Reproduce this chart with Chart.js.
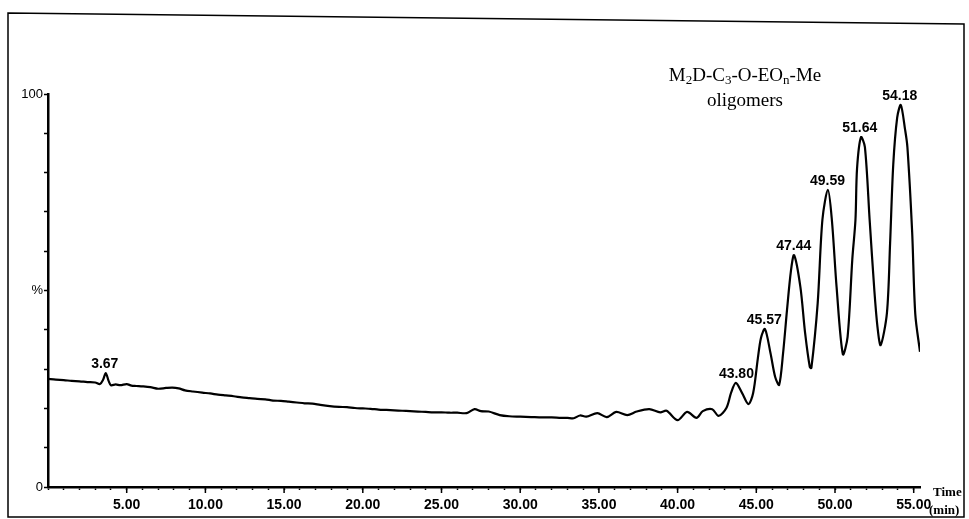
<!DOCTYPE html>
<html>
<head>
<meta charset="utf-8">
<script src="https://cdn.jsdelivr.net/npm/chart.js@4.4.1/dist/chart.umd.min.js"></script>
<style>
  body { margin: 0; background: #fff; }
  canvas { display: block; }
</style>
</head>
<body>
<canvas id="tic" width="969" height="519"></canvas>
<script>
// retention time (min) and relative intensity (%)
const times = [0.0, 0.5, 1.0, 1.5, 2.0, 2.5, 3.0, 3.3, 3.5, 3.67, 3.85, 4.0, 4.3, 4.6, 5.0, 5.3, 5.6, 6.0, 6.5, 7.0,
  7.5, 7.9, 8.3, 8.7, 9.2, 9.8, 10.3, 10.8, 11.3, 11.8, 12.3, 12.8, 13.3, 13.8, 14.3, 14.8, 15.3, 15.8, 16.3, 16.8,
  17.3, 17.9, 18.5, 19.0, 19.5, 20.0, 20.5, 21.0, 21.5, 22.0, 22.5, 23.0, 23.5, 24.0, 24.5, 25.0, 25.5, 26.0, 26.6, 27.1,
  27.5, 28.0, 28.7, 29.3, 30.0, 30.7, 31.4, 32.0, 32.6, 33.0, 33.4, 33.8, 34.2, 34.9, 35.5, 36.1, 36.8, 37.4, 38.2, 38.9,
  39.3, 40.0, 40.6, 41.2, 41.6, 42.2, 42.6, 43.1, 43.4, 43.7, 44.1, 44.5, 44.8, 45.1, 45.3, 45.55, 45.9, 46.2, 46.45, 46.7,
  46.95, 47.2, 47.4, 47.8, 48.1, 48.4, 48.5, 48.9, 49.2, 49.55, 49.8, 50.1, 50.5, 50.8, 51.1, 51.3, 51.4, 51.65, 51.9, 52.2,
  52.5, 52.7, 52.9, 53.3, 53.5, 53.7, 53.95, 54.18, 54.45, 54.6, 54.9, 55.1, 55.4];
const intensity = [27.5, 27.3, 27.2, 27.0, 26.9, 26.7, 26.6, 26.2, 27.3, 29.0, 27.0, 25.9, 26.1, 25.9, 26.2, 25.8, 25.7, 25.6, 25.4, 25.0,
  25.2, 25.3, 25.1, 24.6, 24.3, 24.0, 23.8, 23.5, 23.3, 23.1, 22.8, 22.6, 22.4, 22.3, 22.0, 21.9, 21.7, 21.5, 21.3, 21.2,
  20.9, 20.6, 20.4, 20.3, 20.1, 20.0, 19.9, 19.7, 19.6, 19.5, 19.4, 19.3, 19.2, 19.1, 19.0, 19.0, 18.9, 18.9, 18.8, 19.8,
  19.3, 19.2, 18.3, 18.0, 17.9, 17.8, 17.7, 17.7, 17.6, 17.6, 17.5, 18.2, 17.9, 18.8, 17.8, 19.1, 18.3, 19.2, 19.8, 19.0,
  19.4, 17.0, 19.1, 17.6, 19.3, 19.8, 18.1, 20.1, 24.0, 26.5, 23.9, 21.1, 23.9, 32.8, 38.0, 40.2, 34.1, 28.0, 26.0, 34.0,
  45.0, 55.0, 59.0, 50.9, 39.2, 30.5, 30.3, 46.8, 68.0, 75.6, 68.0, 50.9, 33.8, 38.2, 58.0, 68.0, 81.0, 89.0, 86.5, 68.0,
  50.0, 40.7, 36.1, 44.3, 62.0, 82.0, 94.0, 97.2, 91.0, 86.5, 65.0, 44.0, 34.4];

// labelled peaks
const peakTimes = [3.67, 43.80, 45.57, 47.44, 49.59, 51.64, 54.18];
const peakHeights = [29.0, 26.5, 40.2, 59.0, 75.6, 89.0, 97.2];

// y axis only carries three labels
const yLabels = { 0: '0', 50: '%', 100: '100' };

const points = times.map((t, i) => ({ x: t, y: intensity[i] }));

const framePlugin = {
  id: 'frame',
  afterDraw(chart) {
    const ctx = chart.ctx;
    const xs = chart.scales.x;
    const ys = chart.scales.y;
    ctx.save();

    // scanned page border
    ctx.strokeStyle = '#000';
    ctx.lineWidth = 1.5;
    ctx.beginPath();
    ctx.moveTo(8, 13);
    ctx.lineTo(964, 24);
    ctx.lineTo(964, 517);
    ctx.lineTo(8, 517);
    ctx.closePath();
    ctx.stroke();

    // longer ticks every 5 min
    ctx.lineWidth = 1.5;
    ctx.beginPath();
    for (let t = 5; t <= 55; t += 5) {
      const px = xs.getPixelForValue(t);
      ctx.moveTo(px, ys.bottom);
      ctx.lineTo(px, ys.bottom + 6);
    }
    ctx.stroke();

    // peak retention times
    ctx.fillStyle = '#000';
    ctx.font = 'bold 14px "Liberation Sans", Arial, sans-serif';
    ctx.textAlign = 'center';
    ctx.textBaseline = 'bottom';
    peakTimes.forEach((t, i) => {
      const px = xs.getPixelForValue(t);
      const py = ys.getPixelForValue(peakHeights[i]);
      ctx.fillText(t.toFixed(2), px - 1, py - 2);
    });

    // axis name
    ctx.font = 'bold 13px "Liberation Serif", "Times New Roman", serif';
    ctx.textAlign = 'left';
    ctx.textBaseline = 'middle';
    ctx.fillText('Time', 933, 493);
    ctx.fillText('(min)', 929, 511);

    // compound annotation with subscripts
    const parts = [['M', 0], ['2', 1], ['D-C', 0], ['3', 1], ['-O-EO', 0], ['n', 1], ['-Me', 0]];
    const big = '19px "Liberation Serif", "Times New Roman", serif';
    const small = '13px "Liberation Serif", "Times New Roman", serif';
    let w = 0;
    parts.forEach(p => { ctx.font = p[1] ? small : big; w += ctx.measureText(p[0]).width; });
    let x = 745 - w / 2;
    ctx.textAlign = 'left';
    ctx.textBaseline = 'alphabetic';
    parts.forEach(p => {
      ctx.font = p[1] ? small : big;
      ctx.fillText(p[0], x, p[1] ? 84 : 81);
      x += ctx.measureText(p[0]).width;
    });
    ctx.font = big;
    ctx.textAlign = 'center';
    ctx.fillText('oligomers', 745, 106);

    ctx.restore();
  }
};

new Chart(document.getElementById('tic'), {
  type: 'line',
  data: {
    datasets: [{
      data: points,
      borderColor: '#000',
      borderWidth: 2.2,
      pointRadius: 0,
      tension: 0.3,
      fill: false
    }]
  },
  options: {
    responsive: false,
    animation: false,
    parsing: false,
    layout: { padding: { left: 0, top: 94, right: 49, bottom: 0 } },
    plugins: {
      legend: { display: false },
      tooltip: { enabled: false }
    },
    scales: {
      x: {
        type: 'linear',
        min: 0,
        max: 55.4,
        afterFit(scale) { scale.height = 32; },
        border: { display: true, color: '#000', width: 2.5 },
        grid: { drawOnChartArea: false, drawTicks: true, tickLength: 3, tickColor: '#000', tickWidth: 1.5 },
        ticks: {
          stepSize: 1,
          includeBounds: false,
          autoSkip: false,
          maxRotation: 0,
          padding: 7,
          color: '#000',
          font: { family: '"Liberation Sans", Arial, sans-serif', size: 14, weight: 'bold' },
          callback: v => (v > 0 && v % 5 === 0) ? v.toFixed(2) : ''
        }
      },
      y: {
        min: 0,
        max: 100,
        afterFit(scale) { scale.width = 48; },
        border: { display: true, color: '#000', width: 2.5 },
        grid: { drawOnChartArea: false, drawTicks: true, tickLength: 4, tickColor: '#000', tickWidth: 1.5 },
        ticks: {
          stepSize: 10,
          padding: 1,
          color: '#000',
          font: { family: '"Liberation Sans", Arial, sans-serif', size: 13 },
          callback: v => yLabels[v] || ''
        }
      }
    }
  },
  plugins: [framePlugin]
});
</script>
</body>
</html>
